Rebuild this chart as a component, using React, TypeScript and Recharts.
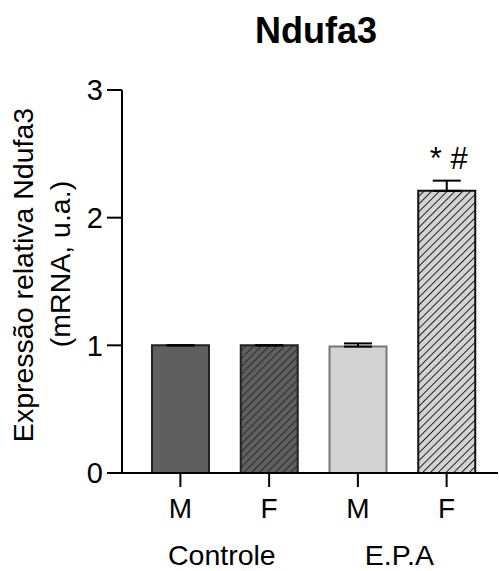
import React from 'react';
import { BarChart, Bar, XAxis, YAxis, Cell, ErrorBar, LabelList } from 'recharts';

const categories = ['M', 'F', 'M', 'F'];
const values = [1.0, 1.0, 0.99, 2.21];
const errors = [0, 0, 0.025, 0.08];
const marks = ['', '', '', '* #'];
const groups = ['Controle', 'E.P.A'];
const yTicks = [0, 1, 2, 3];

const fills = ['#5f5f5f', 'url(#hatchDark)', '#d3d3d3', 'url(#hatchLight)'];
const strokes = ['#222', '#222', '#777', '#111'];

const data = categories.map((c, i) => ({
  id: `${c}-${i}`,
  label: c,
  value: values[i],
  err: [0, errors[i]],
  mark: marks[i],
}));

const FONT = 'Liberation Sans, Arial, sans-serif';

const XTick = (props: any) => {
  const { x, y, payload } = props;
  const d = data[payload.index];
  return (
    <text x={x} y={y} dy={20} textAnchor="middle" fontSize={28} fontFamily={FONT} fill="#000">
      {d ? d.label : ''}
    </text>
  );
};

const GroupTick = (props: any) => {
  const { x, y, payload } = props;
  const idx = payload.index;
  if (idx % 2 !== 0) return null;
  // centre between the two bars of the group
  const step = 89;
  return (
    <text x={x + step / 2 - 3} y={y} dy={20} textAnchor="middle" fontSize={28.5} fontFamily={FONT} fill="#000">
      {groups[idx / 2]}
    </text>
  );
};

const MarkLabel = (props: any) => {
  const { x, y, width, value } = props;
  if (!value) return null;
  return (
    <text x={x + width / 2 + 2} y={y - 22} textAnchor="middle" fontSize={31} fontFamily={FONT} fill="#000" style={{ whiteSpace: 'pre' }}>
      {value}
    </text>
  );
};

const Overlay = () => (
  <g fontFamily={FONT} fill="#000">
    <text x={316} y={43} textAnchor="middle" fontSize={36} fontWeight="bold">
      Ndufa3
    </text>
    <text x={33} y={275} fontSize={28.5} textAnchor="middle" transform="rotate(-90, 33, 275)">
      Expressão relativa Ndufa3
    </text>
    <text x={70} y={264} fontSize={28.5} textAnchor="middle" transform="rotate(-90, 70, 264)">
      (mRNA, u.a.)
    </text>
  </g>
);

const App = () => {
  return (
    <div style={{ position: 'absolute', left: 0, top: 0, width: 499, height: 571, background: '#fff' }}>
      <BarChart
        width={499}
        height={571}
        data={data}
        margin={{ top: 90, right: 1, bottom: 0, left: 0 }}
        barSize={57}
        style={{ position: 'absolute', left: 0, top: 0 }}
      >
        <defs>
          <pattern id="hatchDark" patternUnits="userSpaceOnUse" width={5.5} height={5.5} patternTransform="rotate(45)">
            <rect width={5.5} height={5.5} fill="#5f5f5f" />
            <line x1={0} y1={0} x2={0} y2={5.5} stroke="#2a2a2a" strokeWidth={2} />
          </pattern>
          <pattern id="hatchLight" patternUnits="userSpaceOnUse" width={5.5} height={5.5} patternTransform="rotate(45)">
            <rect width={5.5} height={5.5} fill="#d3d3d3" />
            <line x1={0} y1={0} x2={0} y2={5.5} stroke="#111" strokeWidth={1.8} />
          </pattern>
        </defs>
        <XAxis
          dataKey="id"
          xAxisId={0}
          height={53}
          padding={{ left: 14, right: 7 }}
          axisLine={{ stroke: '#000', strokeWidth: 2 }}
          tickLine={{ stroke: '#000', strokeWidth: 2 }}
          tickSize={14}
          tickMargin={11}
          tick={<XTick />}
          interval={0}
        />
        <XAxis
          dataKey="id"
          xAxisId={1}
          height={45}
          padding={{ left: 14, right: 7 }}
          axisLine={false}
          tickLine={false}
          tickSize={0}
          tickMargin={19}
          tick={<GroupTick />}
          interval={0}
        />
        <YAxis
          width={122}
          domain={[0, 3]}
          ticks={yTicks}
          allowDataOverflow
          axisLine={{ stroke: '#000', strokeWidth: 2 }}
          tickLine={{ stroke: '#000', strokeWidth: 2 }}
          tickSize={15}
          tickMargin={4}
          tick={{ fontSize: 29, fontFamily: FONT, fill: '#000' }}
        />
        <Bar dataKey="value" xAxisId={0} isAnimationActive={false} strokeWidth={2}>
          {data.map((d, i) => (
            <Cell key={d.id} fill={fills[i]} stroke={strokes[i]} />
          ))}
          <ErrorBar dataKey="err" width={14} stroke="#000" strokeWidth={2} direction="y" />
          <LabelList dataKey="mark" content={<MarkLabel />} />
        </Bar>
      </BarChart>
      <svg width={499} height={571} style={{ position: 'absolute', left: 0, top: 0, pointerEvents: 'none' }}>
        <Overlay />
      </svg>
    </div>
  );
};

export default App;
